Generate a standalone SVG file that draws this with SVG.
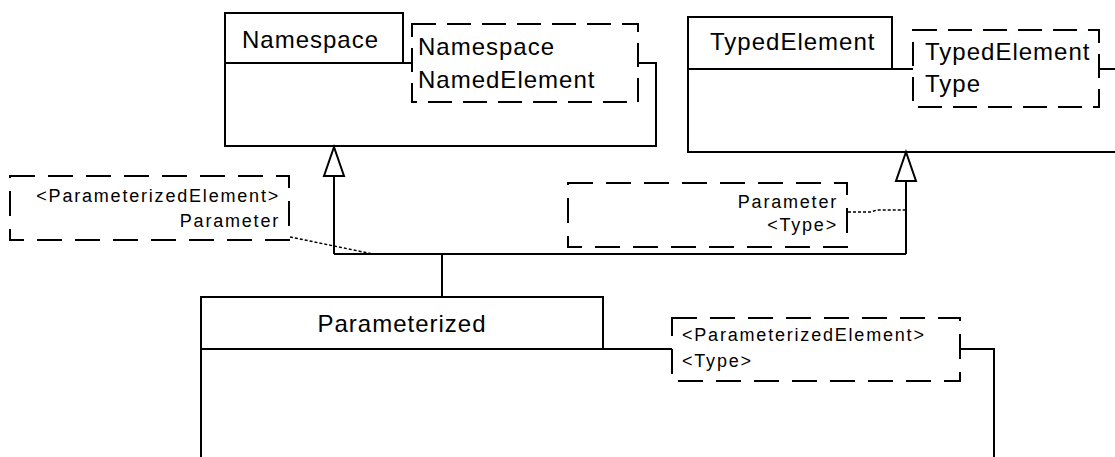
<svg xmlns="http://www.w3.org/2000/svg" width="1115" height="457" viewBox="0 0 1115 457">
<style>
.solid{fill:none;stroke:#000;stroke-width:2}
.box{fill:#fff;stroke:#000;stroke-width:2}
.dash{fill:none;stroke:#000;stroke-width:2;stroke-dasharray:24 11}
.dash2{fill:none;stroke:#000;stroke-width:2;stroke-dasharray:25 13}
.dot{fill:none;stroke:#000;stroke-width:1.5;stroke-dasharray:3 2}
.big{font-family:"Liberation Sans",Arial,sans-serif;font-size:24px;letter-spacing:1px;fill:#000}
.small{font-family:"Liberation Sans",Arial,sans-serif;font-size:18px;letter-spacing:1.8px;fill:#000}
.tri{fill:#fff;stroke:#000;stroke-width:2}
</style>
<rect width="1115" height="457" fill="#fff"/>
<g id="namespace">
<rect class="box" x="225" y="13" width="178" height="50"/>
<text class="big" x="242" y="48">Namespace</text>
<path class="solid" d="M225,63 V146 H656 V63 H638 M403,63 H412"/>
<rect class="dash" x="412" y="24" width="226" height="78"/>
<text class="big" x="418" y="55">Namespace</text>
<text class="big" x="418" y="88">NamedElement</text>
</g>
<g id="typedelement">
<rect class="box" x="688" y="17" width="204" height="52"/>
<text class="big" x="710" y="50">TypedElement</text>
<path class="solid" d="M688,69 V152 H1116 M892,69 H913 M1099,69 H1116"/>
<rect class="dash" x="913" y="30" width="186" height="77"/>
<text class="big" x="925" y="60">TypedElement</text>
<text class="big" x="925" y="92">Type</text>
</g>
<g id="note-parameter-left">
<rect class="dash2" x="10" y="176" width="279" height="64"/>
<text class="small" x="280" y="202" text-anchor="end">&lt;ParameterizedElement&gt;</text>
<text class="small" x="280" y="227" text-anchor="end">Parameter</text>
</g>
<g id="note-parameter-right">
<rect class="dash2" x="568" y="183" width="279" height="64"/>
<text class="small" x="838" y="208" text-anchor="end">Parameter</text>
<text class="small" x="838" y="231" text-anchor="end">&lt;Type&gt;</text>
</g>
<g id="parameterized">
<rect class="box" x="201" y="297" width="402" height="52"/>
<text class="big" x="402" y="332" text-anchor="middle">Parameterized</text>
<path class="solid" d="M201,349 V458 M603,349 H672 M960,349 H994 V458"/>
<rect class="dash2" x="672" y="318" width="288" height="63"/>
<text class="small" x="682" y="341">&lt;ParameterizedElement&gt;</text>
<text class="small" x="682" y="367">&lt;Type&gt;</text>
</g>
<g id="connectors">
<path class="solid" d="M442,297 V254 M334,254 H906 M334,254 V176 M906,254 V181"/>
<polygon class="tri" points="334,147 324,176 344,176"/>
<polygon class="tri" points="906,152 896,181 916,181"/>
<path class="dot" d="M290,237 L334,246 L373,254"/>
<path class="dot" d="M848,212 L870,212 L877,210 L906,210"/>
</g>
</svg>
